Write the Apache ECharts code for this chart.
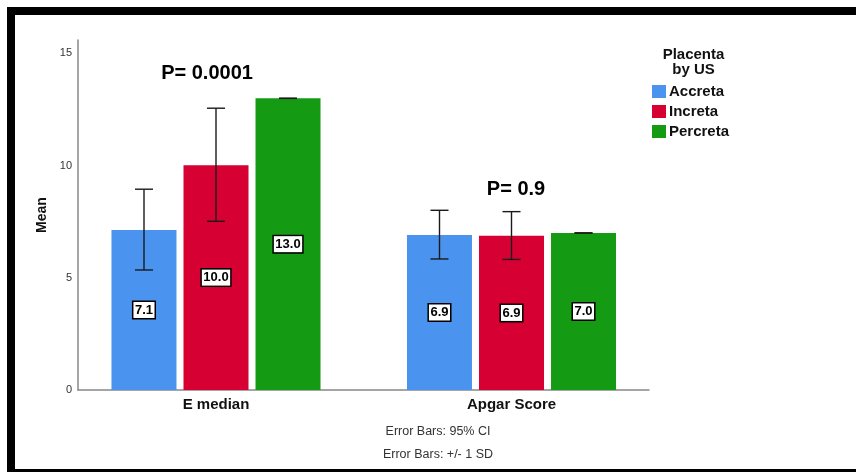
<!DOCTYPE html>
<html>
<head>
<meta charset="utf-8">
<script src="https://cdn.jsdelivr.net/npm/echarts@6/dist/echarts.min.js"></script>
<style>
  html, body { margin: 0; padding: 0; background: #fff; }
  #chart { width: 856px; height: 472px; }
</style>
</head>
<body>
<div id="chart"></div>
<script>
// Group means with error-bar bounds per placenta type
const categories = ['E median', 'Apgar Score'];
const seriesNames = ['Accreta', 'Increta', 'Percreta'];
const accretaMean = [7.13, 6.91];
const incretaMean = [10.02, 6.87];
const percretaMean = [13.0, 7.0];
const accretaLow = [5.35, 5.84];
const accretaHigh = [8.95, 8.01];
const incretaLow = [7.52, 5.82];
const incretaHigh = [12.56, 7.95];
const percretaLow = [13.0, 7.0];
const percretaHigh = [13.0, 7.0];
const yTicks = [0, 5, 10, 15];
const pLabels = ['P= 0.0001', 'P= 0.9'];
const footnotes = ['Error Bars: 95% CI', 'Error Bars: +/- 1 SD'];

const colors = ['#4a94f0', '#d60032', '#159a14'];
const FONT = '"Liberation Sans", Arial, sans-serif';
const BAR_W = 65;
const GAP_PX = 7;
const CAP = 9;
const Y_MAX = 15.6;

const means = [accretaMean, incretaMean, percretaMean];
const lows = [accretaLow, incretaLow, percretaLow];
const highs = [accretaHigh, incretaHigh, percretaHigh];

function errorBarRenderer(k) {
  return function (params, api) {
    const x = api.coord([api.value(0), 0])[0] + (k - 1) * (BAR_W + GAP_PX);
    const yLo = api.coord([api.value(0), api.value(1)])[1];
    const yHi = api.coord([api.value(0), api.value(2)])[1];
    const style = { stroke: '#1a1a1a', lineWidth: 1.4 };
    return {
      type: 'group',
      children: [
        { type: 'line', shape: { x1: x, y1: yHi, x2: x, y2: yLo }, style },
        { type: 'line', shape: { x1: x - CAP, y1: yHi, x2: x + CAP, y2: yHi }, style },
        { type: 'line', shape: { x1: x - CAP, y1: yLo, x2: x + CAP, y2: yLo }, style }
      ]
    };
  };
}

const barSeries = seriesNames.map((name, k) => ({
  name,
  type: 'bar',
  xAxisIndex: 0,
  yAxisIndex: 0,
  barWidth: BAR_W,
  barGap: (GAP_PX / BAR_W * 100).toFixed(1) + '%',
  data: means[k],
  itemStyle: { color: colors[k] },
  label: {
    show: true,
    position: 'inside',
    formatter: p => p.value.toFixed(1),
    fontFamily: FONT,
    fontSize: 13,
    fontWeight: 'bold',
    color: '#000',
    backgroundColor: '#fff',
    borderColor: '#000',
    borderWidth: 1.5,
    padding: [2, 1.5, 1, 1.5]
  }
}));

const errorSeries = seriesNames.map((name, k) => ({
  name: name + ' error',
  type: 'custom',
  xAxisIndex: 0,
  yAxisIndex: 0,
  z: 5,
  renderItem: errorBarRenderer(k),
  encode: { x: 0, y: [1, 2] },
  data: categories.map((c, i) => [i, lows[k][i], highs[k][i]])
}));

const chart = echarts.init(document.getElementById('chart'), null, { renderer: 'canvas' });
chart.setOption({
  backgroundColor: '#fff',
  animation: false,
  textStyle: { fontFamily: FONT },
  grid: [
    { left: 68.25, width: 591, top: 40, bottom: 82 },
    { left: 78, right: 207, top: 40, bottom: 82 }
  ],
  xAxis: [
    {
      gridIndex: 0,
      type: 'category',
      data: categories,
      axisLine: { show: false },
      axisTick: { show: false },
      axisLabel: { fontFamily: FONT, fontSize: 15, fontWeight: 'bold', color: '#111', margin: 7 }
    },
    {
      gridIndex: 1,
      type: 'category',
      data: categories,
      axisLine: { lineStyle: { color: '#888', width: 1.5 } },
      axisTick: { show: false },
      axisLabel: { show: false }
    }
  ],
  yAxis: [
    {
      gridIndex: 0,
      type: 'value',
      min: 0,
      max: Y_MAX,
      show: false,
      splitLine: { show: false }
    },
    {
      gridIndex: 1,
      type: 'value',
      min: 0,
      max: Y_MAX,
      name: 'Mean',
      nameLocation: 'middle',
      nameRotate: 90,
      nameGap: 29,
      nameTextStyle: { fontFamily: FONT, fontSize: 14, fontWeight: 'bold', color: '#111' },
      axisLine: { show: true, lineStyle: { color: '#888', width: 1.5 } },
      axisTick: { show: false },
      splitLine: { show: false },
      axisLabel: { customValues: yTicks, fontFamily: FONT, fontSize: 11, color: '#333', margin: 6 }
    }
  ],
  legend: {
    orient: 'vertical',
    left: 652,
    top: 84,
    padding: 0,
    itemWidth: 14,
    itemHeight: 13,
    itemGap: 5,
    icon: 'rect',
    data: seriesNames,
    selectedMode: false,
    textStyle: { fontFamily: FONT, fontSize: 15, fontWeight: 'bold', color: '#111', padding: [0, 0, 0, -2] }
  },
  graphic: [
    {
      type: 'text', position: [693.5, 47], silent: true,
      style: { text: 'Placenta\nby US', font: 'bold 15px ' + FONT, fill: '#111', textAlign: 'center', lineHeight: 15 }
    },
    {
      type: 'text', position: [207, 73], silent: true,
      style: { text: pLabels[0], font: 'bold 20px ' + FONT, fill: '#000', textAlign: 'center', textVerticalAlign: 'middle' }
    },
    {
      type: 'text', position: [516, 189], silent: true,
      style: { text: pLabels[1], font: 'bold 20px ' + FONT, fill: '#000', textAlign: 'center', textVerticalAlign: 'middle' }
    },
    {
      type: 'text', position: [438, 432], silent: true,
      style: { text: footnotes[0], font: '12.5px ' + FONT, fill: '#333', textAlign: 'center', textVerticalAlign: 'middle' }
    },
    {
      type: 'text', position: [438, 455], silent: true,
      style: { text: footnotes[1], font: '12.5px ' + FONT, fill: '#333', textAlign: 'center', textVerticalAlign: 'middle' }
    },
    {
      type: 'rect', silent: true, z: 100,
      shape: { x: 11, y: 11, width: 900, height: 462 },
      style: { fill: 'none', stroke: '#000', lineWidth: 8 }
    }
  ],
  series: barSeries.concat(errorSeries)
});
</script>
</body>
</html>
